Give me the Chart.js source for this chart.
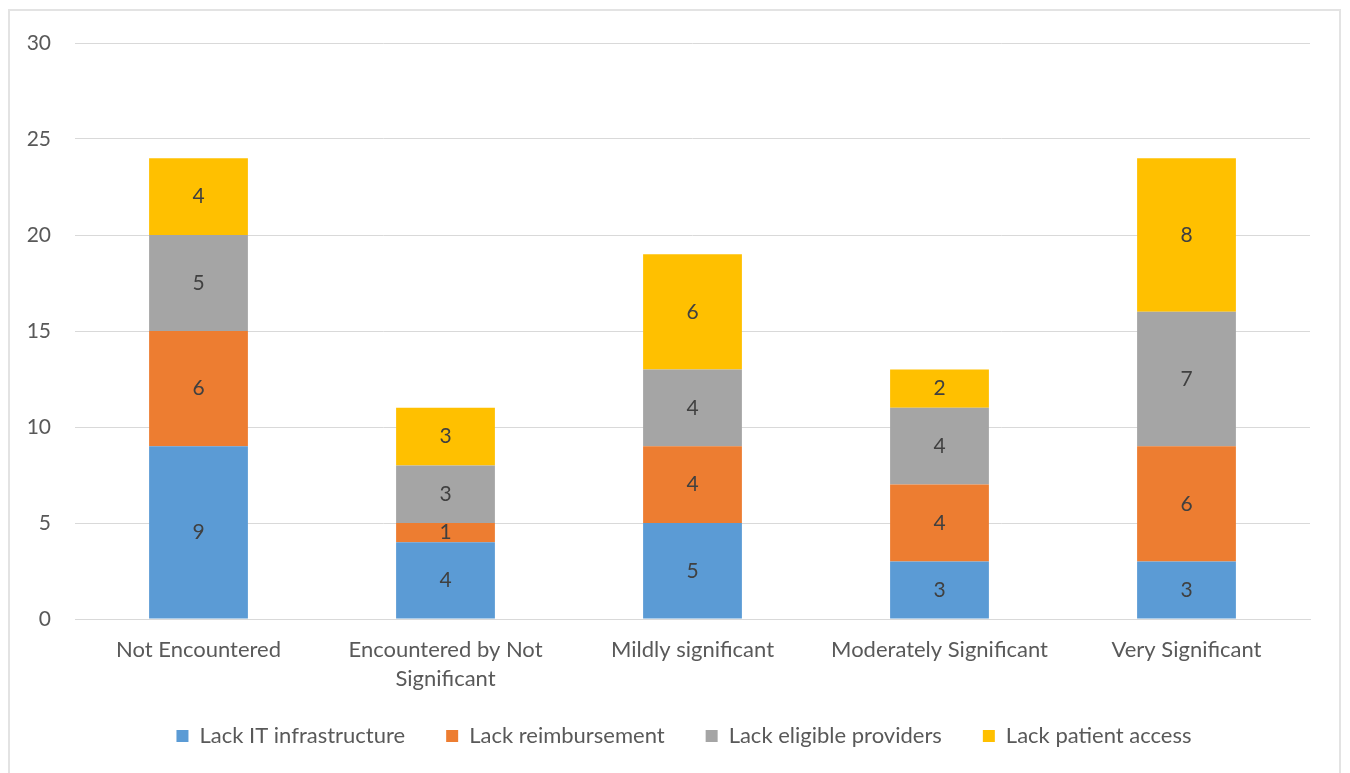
<!DOCTYPE html>
<html>
<head>
<meta charset="utf-8">
<script src="https://cdn.jsdelivr.net/npm/chart.js@4"></script>
<style>
  html, body { margin: 0; padding: 0; background: #fff; }
  #frame {
    position: absolute; left: 8px; top: 9px; width: 1333px; height: 800px;
    border: 2px solid #e3e3e3; box-sizing: border-box;
  }
  #wrap { position: absolute; left: 0; top: 0; width: 1350px; height: 773px; }
</style>
</head>
<body>
<div id="frame"></div>
<div id="wrap"><canvas id="chart"></canvas></div>
<script>
// Chart data
const categories = [
  'Not Encountered',
  ['Encountered by Not', 'Significant'],
  'Mildly significant',
  'Moderately Significant',
  'Very Significant'
];
const lackIT = [9, 4, 5, 3, 3];
const lackReimbursement = [6, 1, 4, 4, 6];
const lackProviders = [5, 3, 4, 4, 7];
const lackPatientAccess = [4, 3, 6, 2, 8];
const yTicks = [0, 5, 10, 15, 20, 25, 30];

const textColor = '#595959';
const fontFamily = 'Lato, "Liberation Sans", sans-serif';

// Draw the value in the middle of each stacked segment
const segmentLabels = {
  id: 'segmentLabels',
  afterDatasetsDraw(chart) {
    const ctx = chart.ctx;
    ctx.save();
    ctx.font = '21px ' + fontFamily;
    ctx.fillStyle = '#404040';
    ctx.textAlign = 'center';
    ctx.textBaseline = 'middle';
    chart.data.datasets.forEach(function(ds, i) {
      const meta = chart.getDatasetMeta(i);
      meta.data.forEach(function(bar, j) {
        const v = ds.data[j];
        if (!v) return;
        ctx.fillText(String(v), bar.x, (bar.y + bar.base) / 2);
      });
    });
    ctx.restore();
  }
};

// Legend padding also sets item spacing, so move the box a bit after layout
const legendNudge = {
  id: 'legendNudge',
  afterLayout(chart) {
    const l = chart.legend;
    if (!l) return;
    l.top -= 10; l.bottom -= 10;
    l.left += 29; l.right += 29;
  }
};

new Chart(document.getElementById('chart'), {
  type: 'bar',
  data: {
    labels: categories,
    datasets: [
      { label: 'Lack IT infrastructure', data: lackIT, backgroundColor: '#5B9BD5' },
      { label: 'Lack reimbursement', data: lackReimbursement, backgroundColor: '#ED7D31' },
      { label: 'Lack eligible providers', data: lackProviders, backgroundColor: '#A5A5A5' },
      { label: 'Lack patient access', data: lackPatientAccess, backgroundColor: '#FFC000' }
    ]
  },
  options: {
    responsive: true,
    maintainAspectRatio: false,
    animation: false,
    categoryPercentage: 1.0,
    barPercentage: 0.4,
    layout: { padding: { left: 0, right: 40, top: 43, bottom: 6 } },
    scales: {
      x: {
        stacked: true,
        grid: { display: false },
        border: { display: true, color: '#d9d9d9', width: 1 },
        ticks: {
          color: textColor,
          font: { family: fontFamily, size: 22, lineHeight: 1.32 },
          padding: 8,
          maxRotation: 0,
          autoSkip: false
        },
        afterFit: function(scale) { scale.height = 75; }
      },
      y: {
        stacked: true,
        min: 0,
        max: 30,
        afterBuildTicks: function(scale) {
          scale.ticks = yTicks.map(function(v) { return { value: v }; });
        },
        grid: { color: '#d9d9d9', lineWidth: 1, drawTicks: false },
        border: { display: false },
        ticks: {
          color: textColor,
          font: { family: fontFamily, size: 21 },
          padding: 24
        },
        afterFit: function(scale) { scale.width = 75; }
      }
    },
    plugins: {
      legend: {
        position: 'bottom',
        labels: {
          color: textColor,
          font: { family: fontFamily, size: 22 },
          boxWidth: 12,
          boxHeight: 12,
          padding: 41
        }
      },
      tooltip: { enabled: false }
    }
  },
  plugins: [segmentLabels, legendNudge]
});
</script>
</body>
</html>
